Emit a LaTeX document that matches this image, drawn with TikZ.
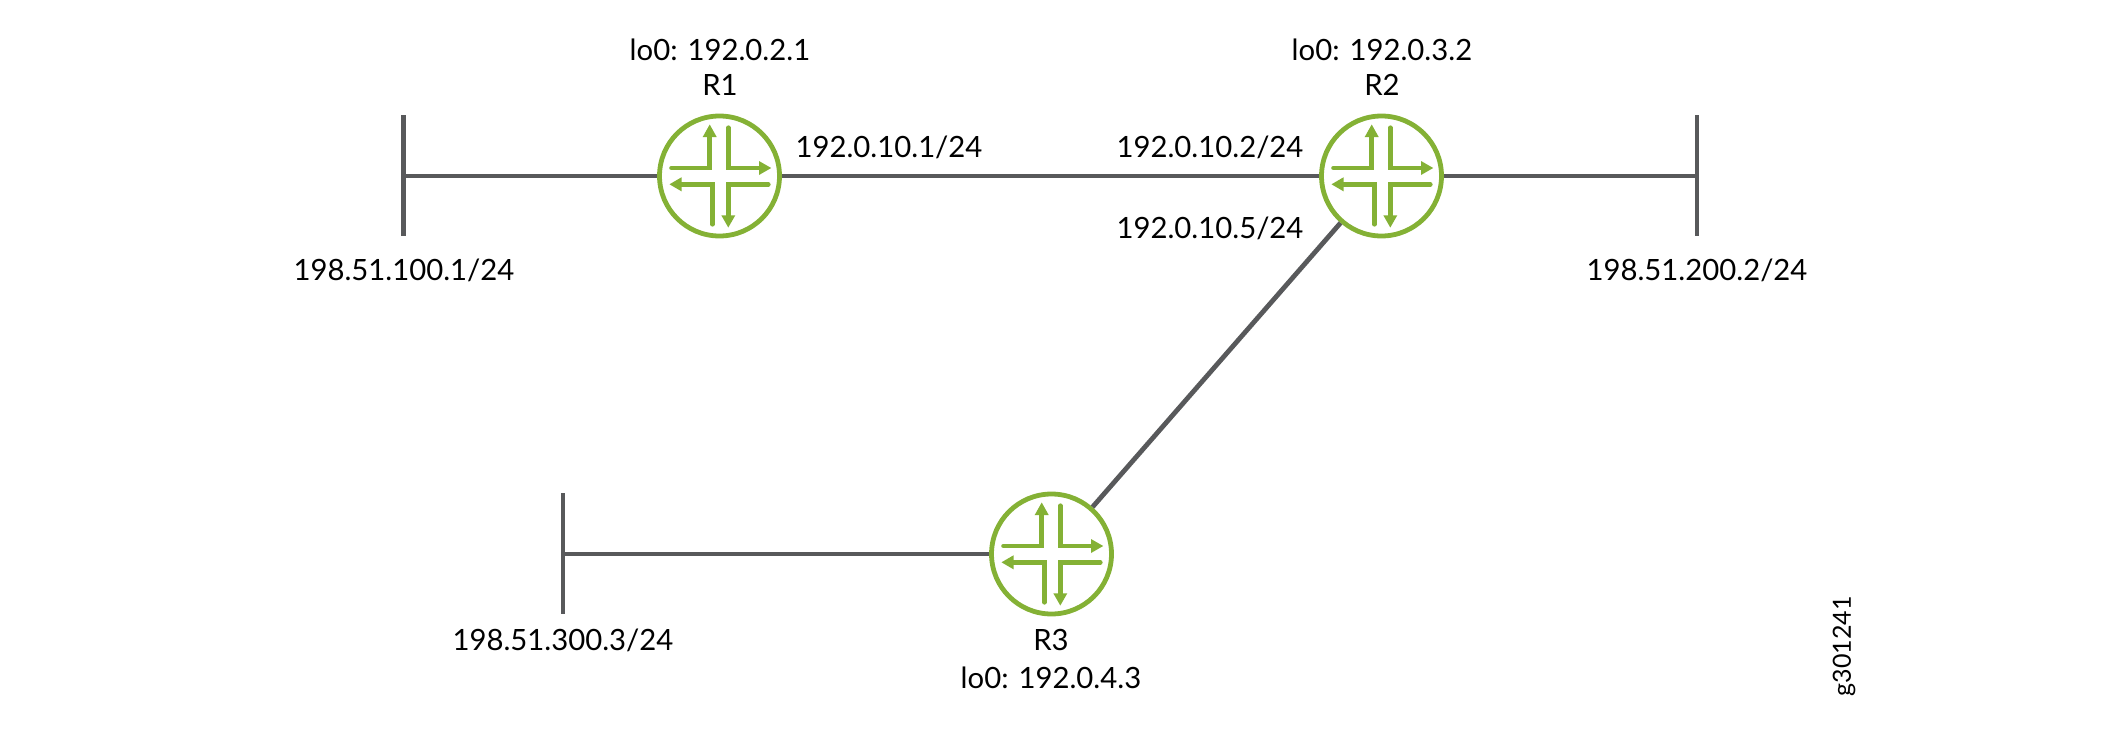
\documentclass[tikz,border=0pt]{standalone}
\usepackage{fontspec}
\setmainfont{Lato}
\definecolor{rgreen}{HTML}{84B135}
\definecolor{wire}{HTML}{58595B}
\tikzset{
  x=1pt,y=-1pt,
  link/.style={draw=wire,line width=4.8pt},
  router/.style={circle,draw=rgreen,line width=4.8pt,fill=white,minimum size=120pt,inner sep=0pt},
  lbl/.style={font=\fontsize{29.3}{33}\selectfont,text=black,inner sep=0pt},
  tag/.style={font=\fontsize{25}{29}\selectfont,text=black,inner sep=0pt,rotate=90},
  arm/.style={draw=rgreen,line width=4.6pt,line cap=round,line join=miter},
  head/.style={fill=rgreen,draw=none},
  pics/routericon/.style={code={
    \draw[arm] (-48,-8) -- (-9.8,-8) -- (-9.8,-40);
    \fill[head] (-9.8,-51.5) -- (-16.8,-39) -- (-2.8,-39) -- cycle;
    \draw[arm] (8.8,-48.3) -- (8.8,-8) -- (40,-8);
    \fill[head] (51.7,-8) -- (39.5,-15) -- (39.5,-1) -- cycle;
    \draw[arm] (48.8,8.3) -- (8.8,8.3) -- (8.8,40);
    \fill[head] (8.8,51.5) -- (1.8,39.3) -- (15.8,39.3) -- cycle;
    \draw[arm] (-7.2,48.3) -- (-7.2,8.3) -- (-38,8.3);
    \fill[head] (-50,8.3) -- (-38,1.3) -- (-38,15.3) -- cycle;
  }}
}
\begin{document}
\begin{tikzpicture}
\useasboundingbox (0,0) rectangle (2101,736);
\coordinate (T1) at (403.5,176);
\coordinate (T1a) at (403.5,115);
\coordinate (T1b) at (403.5,236);
\coordinate (T2) at (1697,176);
\coordinate (T2a) at (1697,115);
\coordinate (T2b) at (1697,236);
\coordinate (T3) at (563,554);
\coordinate (T3a) at (563,493);
\coordinate (T3b) at (563,614);
\node[router] (R1) at (719.5,176) {};
\node[router] (R2) at (1381.5,176) {};
\node[router] (R3) at (1051.5,554) {};
\draw[link] (T1a) -- (T1b);
\draw[link] (T2a) -- (T2b);
\draw[link] (T3a) -- (T3b);
\draw[link] (T1) -- (R1);
\draw[link] (R1) -- (R2);
\draw[link] (R2) -- (T2);
\draw[link] (T3) -- (R3);
\draw[link] (R2) -- (R3);
\pic at (R1) {routericon};
\pic at (R2) {routericon};
\pic at (R3) {routericon};
\node[lbl] (a1) at (720,50) {lo0: 192.0.2.1};
\node[lbl] (a2) at (720,85) {R1};
\node[lbl] (b1) at (1382,50) {lo0: 192.0.3.2};
\node[lbl] (b2) at (1382,85) {R2};
\node[lbl] (c1) at (1051,640) {R3};
\node[lbl] (c2) at (1051,678) {lo0: 192.0.4.3};
\node[lbl] (d1) at (404,270) {198.51.100.1/24};
\node[lbl] (d2) at (1697,270) {198.51.200.2/24};
\node[lbl] (d3) at (563,640) {198.51.300.3/24};
\node[lbl] (e1) at (889,147) {192.0.10.1/24};
\node[lbl] (e2) at (1210,147) {192.0.10.2/24};
\node[lbl] (e3) at (1210,228) {192.0.10.5/24};
\node[tag] (g) at (1844,646) {g301241};
\end{tikzpicture}
\end{document}
